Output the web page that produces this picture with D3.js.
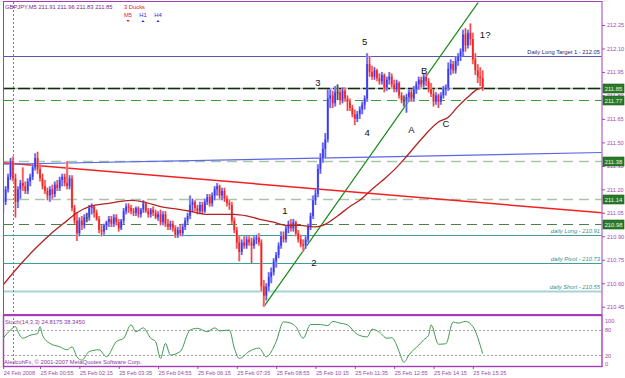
<!DOCTYPE html>
<html>
<head>
<meta charset="utf-8">
<title>GBPJPY M5</title>
<script src="https://cdn.jsdelivr.net/npm/d3@7"></script>
<style>
  body { margin: 0; background: #fff; }
  svg { display: block; font-family: "Liberation Sans", Arial, sans-serif; }
</style>
</head>
<body>
<div class="container"></div>
<script>
// GBPJPY M5 - bar 0 is 24 Feb 23:40, one bar every 5 minutes up to 25 Feb 15:55
const opens = [
  211.08,211.12,211.20,211.28,211.38,211.27,211.12,211.20,211.24,211.22,
  211.19,211.25,211.28,211.34,211.40,211.33,211.27,211.22,211.19,211.16,
  211.20,211.17,211.23,211.21,211.26,211.28,211.24,211.22,211.27,211.08,
  211.00,210.92,211.00,210.97,211.02,211.02,211.08,211.09,211.05,211.01,
  210.94,210.93,210.97,210.99,211.01,210.98,211.02,210.99,210.95,211.00,
  211.06,211.09,211.08,211.06,211.05,211.08,211.04,211.07,211.11,211.06,
  211.04,211.07,211.05,211.02,211.04,210.99,211.04,210.98,210.96,210.98,
  210.95,210.91,210.94,210.92,210.96,211.00,211.03,211.10,211.12,211.08,
  211.06,211.10,211.06,211.12,211.15,211.11,211.16,211.20,211.22,211.16,
  211.19,211.14,211.11,211.10,211.00,210.94,210.86,210.80,210.86,210.84,
  210.88,210.86,210.84,210.88,210.89,210.86,210.58,210.52,210.58,210.64,
  210.67,210.74,210.78,210.84,210.90,210.88,210.95,210.98,210.95,210.99,
  210.92,210.88,210.85,210.84,210.88,210.96,211.03,211.13,211.17,211.33,
  211.40,211.46,211.52,211.78,211.80,211.75,211.82,211.82,211.77,211.83,
  211.78,211.76,211.72,211.68,211.65,211.68,211.71,211.74,211.78,212.00,
  211.95,211.92,211.96,211.91,211.89,211.93,211.85,211.90,211.92,211.87,
  211.84,211.88,211.80,211.77,211.77,211.79,211.82,211.78,211.84,211.87,
  211.90,211.87,211.92,211.89,211.84,211.81,211.76,211.80,211.76,211.80,
  211.84,211.85,211.97,212.00,211.96,212.02,212.05,212.08,212.19,212.12,
  212.20,212.16,212.03,211.96,211.92,211.91
];
const highs = [
  211.14,211.22,211.30,211.40,211.41,211.30,211.22,211.26,211.34,211.25,
  211.27,211.30,211.36,211.43,211.44,211.36,211.30,211.26,211.21,211.22,
  211.23,211.25,211.26,211.28,211.30,211.30,211.38,211.29,211.29,211.10,
  211.05,211.02,211.03,211.04,211.05,211.10,211.11,211.10,211.07,211.03,
  210.97,210.98,211.00,211.03,211.03,211.04,211.04,211.01,211.01,211.08,
  211.11,211.11,211.10,211.08,211.09,211.09,211.08,211.13,211.12,211.08,
  211.08,211.09,211.07,211.06,211.07,211.06,211.06,211.01,211.00,211.00,
  210.97,210.96,210.97,210.98,211.02,211.05,211.16,211.14,211.13,211.10,
  211.12,211.12,211.14,211.17,211.17,211.18,211.22,211.24,211.23,211.21,
  211.21,211.16,211.13,211.12,211.02,210.96,210.90,210.88,210.90,210.90,
  210.90,210.89,210.90,210.91,210.92,210.88,210.62,210.60,210.67,210.70,
  210.76,210.80,210.86,210.93,210.93,210.97,211.00,211.01,211.01,211.00,
  210.94,210.91,210.88,210.90,210.98,211.05,211.16,211.20,211.36,211.43,
  211.50,211.56,211.84,211.84,211.83,211.86,211.87,211.84,211.85,211.85,
  211.80,211.78,211.74,211.71,211.70,211.73,211.76,211.80,212.07,212.05,
  211.99,211.98,211.97,211.94,211.95,211.94,211.92,211.95,211.94,211.90,
  211.90,211.89,211.82,211.80,211.81,211.84,211.84,211.86,211.89,211.92,
  211.92,211.94,211.94,211.91,211.88,211.84,211.82,211.81,211.82,211.86,
  211.87,212.01,212.03,212.02,212.05,212.07,212.10,212.22,212.23,212.22,
  212.26,212.20,212.07,212.00,211.98,211.96
];
const lows = [
  211.05,211.10,211.18,211.26,211.25,211.02,211.08,211.14,211.19,211.17,
  211.17,211.22,211.26,211.32,211.30,211.25,211.20,211.17,211.13,211.12,
  211.14,211.15,211.19,211.19,211.22,211.22,211.20,211.20,211.06,210.98,
  210.87,210.90,210.94,210.95,210.99,211.00,211.04,211.02,211.00,210.92,
  210.90,210.91,210.94,210.96,210.96,210.96,210.97,210.93,210.94,210.98,
  211.04,211.05,211.04,211.03,211.03,211.02,211.02,211.05,211.05,211.02,
  211.02,211.03,211.01,211.00,210.97,210.97,210.96,210.94,210.94,210.93,
  210.89,210.89,210.90,210.90,210.94,210.98,211.01,211.06,211.06,211.04,
  211.04,211.04,211.05,211.10,211.09,211.09,211.13,211.16,211.14,211.13,
  211.12,211.09,211.07,210.98,210.92,210.82,210.74,210.78,210.82,210.82,
  210.84,210.73,210.82,210.85,210.84,210.55,210.45,210.49,210.55,210.60,
  210.65,210.70,210.76,210.82,210.86,210.86,210.92,210.93,210.93,210.90,
  210.86,210.83,210.80,210.82,210.86,210.94,211.01,211.10,211.15,211.30,
  211.37,211.40,211.50,211.72,211.72,211.73,211.77,211.74,211.75,211.76,
  211.70,211.70,211.66,211.61,211.63,211.65,211.68,211.71,211.76,211.92,
  211.90,211.90,211.89,211.87,211.87,211.82,211.83,211.87,211.85,211.82,
  211.82,211.78,211.75,211.73,211.69,211.76,211.76,211.76,211.81,211.84,
  211.85,211.85,211.86,211.82,211.79,211.73,211.74,211.72,211.74,211.78,
  211.80,211.83,211.93,211.94,211.94,211.99,212.02,212.05,212.08,212.10,
  212.12,212.00,211.93,211.88,211.86,211.83
];
const closes = [
  211.12,211.20,211.28,211.38,211.27,211.12,211.20,211.24,211.22,211.19,
  211.25,211.28,211.34,211.40,211.33,211.27,211.22,211.19,211.16,211.20,
  211.17,211.23,211.21,211.26,211.28,211.24,211.22,211.27,211.08,211.00,
  210.92,211.00,210.97,211.02,211.02,211.08,211.09,211.05,211.01,210.94,
  210.93,210.97,210.99,211.01,210.98,211.02,210.99,210.95,211.00,211.06,
  211.09,211.08,211.06,211.05,211.08,211.04,211.07,211.11,211.06,211.04,
  211.07,211.05,211.02,211.04,210.99,211.04,210.98,210.96,210.98,210.95,
  210.91,210.94,210.92,210.96,211.00,211.03,211.10,211.12,211.08,211.06,
  211.10,211.06,211.12,211.15,211.11,211.16,211.20,211.22,211.16,211.19,
  211.14,211.11,211.10,211.00,210.94,210.86,210.80,210.86,210.84,210.88,
  210.86,210.84,210.88,210.89,210.86,210.58,210.52,210.58,210.64,210.67,
  210.74,210.78,210.84,210.90,210.88,210.95,210.98,210.95,210.99,210.92,
  210.88,210.85,210.84,210.88,210.96,211.03,211.13,211.17,211.33,211.40,
  211.46,211.52,211.78,211.80,211.75,211.82,211.82,211.77,211.83,211.78,
  211.76,211.72,211.68,211.65,211.68,211.71,211.74,211.78,212.00,211.95,
  211.92,211.96,211.91,211.89,211.93,211.85,211.90,211.92,211.87,211.84,
  211.88,211.80,211.77,211.77,211.79,211.82,211.78,211.84,211.87,211.90,
  211.87,211.92,211.89,211.84,211.81,211.76,211.80,211.76,211.80,211.84,
  211.85,211.97,212.00,211.96,212.02,212.05,212.08,212.19,212.12,212.20,
  212.16,212.03,211.96,211.92,211.91,211.85
];

// moving average (dark red), read at some bars
const maBars   = [0, 7, 13, 19, 26, 30, 35, 43, 52, 57, 64, 72, 76, 83, 88, 94, 99, 104, 110, 115, 121, 126, 130, 136, 141, 145, 150, 156, 160, 164, 170, 177, 181, 185, 189, 193, 195];
const maValues = [210.59, 210.72, 210.82, 210.91, 211.00, 211.05, 211.09, 211.11, 211.13, 211.12, 211.09, 211.07, 211.06, 211.04, 211.04, 211.04, 211.03, 211.01, 210.99, 210.97, 210.97, 210.96, 210.97, 211.03, 211.09, 211.13, 211.20, 211.28, 211.34, 211.41, 211.52, 211.63, 211.66, 211.73, 211.79, 211.84, 211.85];

// Stoch(14,3,3) main line
const stochBars   = [0, 3, 5, 6, 8, 11, 14, 15, 16, 19, 23, 26, 28, 30, 32, 35, 39, 42, 46, 49, 52, 54, 57, 60, 62, 64, 66, 68, 72, 76, 79, 83, 86, 88, 92, 94, 96, 100, 104, 107, 111, 114, 117, 119, 122, 125, 129, 132, 134, 137, 140, 144, 148, 150, 153, 156, 158, 160, 161, 163, 165, 169, 171, 173, 174, 177, 180, 183, 185, 188, 191, 195];
const stochValues = [60, 79, 87, 75, 60, 67, 71, 87, 67, 48, 40, 33, 40, 17, 9, 29, 33, 17, 52, 60, 91, 75, 84, 60, 52, 13, 48, 21, 29, 79, 83, 75, 84, 77, 79, 37, 13, 29, 37, 17, 52, 98, 95, 87, 60, 92, 92, 89, 99, 95, 91, 69, 63, 81, 74, 60, 61, 44, 29, 4, 21, 44, 56, 67, 91, 46, 47, 98, 95, 99, 87, 24];
const stochLevels = [80, 20];
const stochTicks = [100, 80, 20, 0];

// horizontal levels
const levelPrices = [212.05, 211.85, 211.77, 211.38, 211.14, 210.98, 210.91, 210.73, 210.55];
const levelNames  = ["Daily Long Target 1 -  212.05", "", "", "", "", "", "daily Long -  210.91", "daily Pivot -  210.73", "daily Short -  210.55"];
const boxedLevels = [211.85, 211.77, 211.38, 211.14, 210.98];

// trend lines: [bar, price] start and second point
const trendFrom = [[106, 210.45], [0, 211.37], [0, 211.36]];
const trendTo   = [[191, 212.346], [243.5, 211.05], [243.5, 211.435]];

// wave labels
const waveText   = ["1", "2", "3", "4", "5", "A", "B", "C", "1?"];
const waveBars   = [114.6, 126.4, 128, 148, 147, 166, 171.2, 180.1, 196];
const wavePrices = [211.04, 210.71, 211.86, 211.54, 212.12, 211.56, 211.94, 211.60, 212.17];

const priceTicks = [212.25, 212.10, 211.95, 211.80, 211.65, 211.50, 211.35, 211.20, 211.05, 210.90, 210.75, 210.60, 210.45];
const timeLabels = ["24 Feb 2008", "25 Feb 00:55", "25 Feb 02:15", "25 Feb 03:35", "25 Feb 04:55", "25 Feb 06:15", "25 Feb 07:35", "25 Feb 08:55", "25 Feb 10:15", "25 Feb 11:35", "25 Feb 12:55", "25 Feb 14:15", "25 Feb 15:35"];
const timeBars   = [0, 15, 31, 47, 63, 79, 95, 111, 127, 143, 159, 175, 191];
const daySeparators = [4];

const w = 625, h = 378;
const frame = "#a43cbc";
const axisText = "#a04aa8";

const x = d3.scaleLinear().domain([0, 195]).range([3.16, 482.7]);
const y = d3.scaleLinear().domain([210.45, 212.25]).range([306.7, 25]);
const ys = d3.scaleLinear().domain([0, 100]).range([364, 321]);
const lastBar = x.invert(602);

const svg = d3.select(".container").append("svg").attr("width", w).attr("height", h);
svg.append("rect").attr("width", w).attr("height", h).attr("fill", "#fff");

const defs = svg.append("defs");
defs.append("clipPath").attr("id", "mainClip").append("rect")
  .attr("x", 3.5).attr("y", 2.5).attr("width", 598).attr("height", 311);
defs.append("clipPath").attr("id", "subClip").append("rect")
  .attr("x", 3.5).attr("y", 316.5).attr("width", 598).attr("height", 49);

const main = svg.append("g").attr("clip-path", "url(#mainClip)");

// level lines
const levelStyle = [
  {c: "#5656b4", w: 1, d: null},
  {c: "#0e2e0e", w: 1.6, d: "12,3"},
  {c: "#3e9a3e", w: 1, d: "10,6"},
  {c: "#a9c6a9", w: 1.6, d: "10,6"},
  {c: "#a9c6a9", w: 1.6, d: "10,6"},
  {c: "#4f7f4f", w: 1, d: "10,6"},
  {c: "#3c9e9e", w: 1, d: null},
  {c: "#3c9e9e", w: 1, d: null},
  {c: "#a8d4d4", w: 2, d: null}
];
// grey underlay of the bid-like black dashed level
main.append("line")
  .attr("x1", 3).attr("x2", 602)
  .attr("y1", Math.round(y(levelPrices[1])) + 0.5).attr("y2", Math.round(y(levelPrices[1])) + 0.5)
  .attr("stroke", "#b8b8b8").attr("stroke-width", 1.6);
main.selectAll(".level").data(levelPrices).enter().append("line")
  .attr("x1", 3).attr("x2", 602)
  .attr("y1", d => Math.round(y(d)) + 0.5).attr("y2", d => Math.round(y(d)) + 0.5)
  .attr("stroke", (d, i) => levelStyle[i].c)
  .attr("stroke-width", (d, i) => levelStyle[i].w)
  .attr("stroke-dasharray", (d, i) => levelStyle[i].d);

main.selectAll(".levelName").data(levelPrices).enter().append("text")
  .attr("x", 600).attr("y", d => Math.round(y(d)) - 2)
  .attr("text-anchor", "end")
  .attr("font-size", 5.8)
  .attr("font-style", (d, i) => i > 5 ? "italic" : "normal")
  .attr("fill", (d, i) => i === 0 ? "#26267a" : "#3a8e8e")
  .text((d, i) => levelNames[i]);

// day separator
svg.selectAll(".sep").data(daySeparators).enter().append("line")
  .attr("x1", d => Math.round(x(d)) + 0.5).attr("x2", d => Math.round(x(d)) + 0.5)
  .attr("y1", 2).attr("y2", 366)
  .attr("stroke", "#c050c8").attr("stroke-width", 1).attr("stroke-dasharray", "2,2");

// trend lines, drawn as rays to the right edge
const trendColor = ["#138a13", "#f42020", "#5a66e6"];
const trendWidth = [1.2, 1.5, 1.1];
trendFrom.forEach((s, i) => {
  const e = trendTo[i];
  const slope = (e[1] - s[1]) / (e[0] - s[0]);
  const endPrice = s[1] + slope * (lastBar - s[0]);
  main.append("line")
    .attr("x1", x(s[0])).attr("y1", y(s[1]))
    .attr("x2", x(lastBar)).attr("y2", y(endPrice))
    .attr("stroke", trendColor[i]).attr("stroke-width", trendWidth[i]);
});

// candles
const bars = d3.range(closes.length);
const upC = "#3a3af2", dnC = "#ee2424", flatC = "#333";
const colorOf = i => closes[i] > opens[i] ? upC : (closes[i] < opens[i] ? dnC : flatC);
const haloOf = i => closes[i] > opens[i] ? "#a9a9fb" : (closes[i] < opens[i] ? "#f7a4a4" : "#999");

main.selectAll(".wick").data(bars).enter().append("line")
  .attr("x1", i => x(i)).attr("x2", i => x(i))
  .attr("y1", i => y(highs[i])).attr("y2", i => y(lows[i]))
  .attr("stroke", haloOf).attr("stroke-width", 2.4);

main.selectAll(".body").data(bars).enter().append("rect")
  .attr("x", i => x(i) - 0.8)
  .attr("width", 1.6)
  .attr("y", i => y(Math.max(opens[i], closes[i])))
  .attr("height", i => Math.max(1, Math.abs(y(opens[i]) - y(closes[i]))))
  .attr("fill", colorOf);

main.selectAll(".core").data(bars).enter().append("line")
  .attr("x1", i => x(i)).attr("x2", i => x(i))
  .attr("y1", i => y(highs[i])).attr("y2", i => y(lows[i]))
  .attr("stroke", colorOf).attr("stroke-width", 0.8);

// moving average
main.append("path")
  .datum(maBars)
  .attr("fill", "none").attr("stroke", "#b42222").attr("stroke-width", 1.3)
  .attr("d", d3.line().x(d => x(d)).y((d, i) => y(maValues[i])).curve(d3.curveMonotoneX));

// wave labels
main.selectAll(".wave").data(waveText).enter().append("text")
  .attr("x", (d, i) => x(waveBars[i])).attr("y", (d, i) => y(wavePrices[i]))
  .attr("text-anchor", "middle")
  .attr("font-size", 9.5).attr("fill", "#111")
  .text(d => d);

// frame
svg.append("rect").attr("x", 3.5).attr("y", 1.5).attr("width", 598.5).attr("height", 313)
  .attr("fill", "none").attr("stroke", frame).attr("stroke-width", 1);
svg.append("rect").attr("x", 3.5).attr("y", 315.5).attr("width", 598.5).attr("height", 51)
  .attr("fill", "none").attr("stroke", frame).attr("stroke-width", 1.4);

// price axis
const yAxis = d3.axisRight(y).tickValues(priceTicks).tickSize(3).tickPadding(2)
  .tickFormat(d3.format(".2f"));
const gy = svg.append("g").attr("transform", "translate(602,0)").call(yAxis);
gy.select(".domain").remove();
gy.selectAll("line").attr("stroke", axisText);
gy.selectAll("text").attr("fill", axisText).attr("font-size", 5.6)
  .attr("font-family", "Liberation Sans, Arial, sans-serif");

// boxed level labels on the axis
const boxes = svg.selectAll(".box").data(boxedLevels).enter().append("g")
  .attr("transform", d => "translate(603," + (Math.round(y(d)) - 4) + ")");
boxes.append("rect").attr("width", 21).attr("height", 9)
  .attr("fill", "#2b7a2b").attr("stroke", "#1a5a1a").attr("stroke-width", 0.6);
boxes.append("text").attr("x", 10.5).attr("y", 6.8).attr("text-anchor", "middle")
  .attr("font-size", 5.8).attr("fill", "#e8f4e8").text(d => d.toFixed(2));

// stochastic window
const sub = svg.append("g").attr("clip-path", "url(#subClip)");
sub.selectAll(".slevel").data(stochLevels).enter().append("line")
  .attr("x1", 3).attr("x2", 602)
  .attr("y1", d => Math.round(ys(d)) + 0.5).attr("y2", d => Math.round(ys(d)) + 0.5)
  .attr("stroke", "#8c8c8c").attr("stroke-dasharray", "2,2").attr("stroke-width", 0.8);
sub.append("path")
  .datum(stochBars)
  .attr("fill", "none").attr("stroke", "#3f9a4f").attr("stroke-width", 1)
  .attr("d", d3.line().x(d => x(d)).y((d, i) => ys(stochValues[i])).curve(d3.curveMonotoneX));

const sAxis = d3.axisRight(ys).tickValues(stochTicks).tickSize(0).tickPadding(3);
const gs = svg.append("g").attr("transform", "translate(602,0)").call(sAxis);
gs.select(".domain").remove();
gs.selectAll("text").attr("fill", axisText).attr("font-size", 5.6)
  .attr("font-family", "Liberation Sans, Arial, sans-serif");

svg.append("text").attr("x", 5).attr("y", 324).attr("font-size", 5.8).attr("fill", "#8a3a9a")
  .text("Stoch(14,3,3) 24.8175 38.3450");
svg.append("text").attr("x", 4).attr("y", 364).attr("font-size", 5.8).attr("fill", "#8a3a9a")
  .text("AledcohFx, © 2001-2007 MetaQuotes Software Corp.");

// time axis
const xAxis = d3.axisBottom(x).tickValues(timeBars).tickSize(2).tickPadding(2)
  .tickFormat((d, i) => timeLabels[i]);
const gx = svg.append("g").attr("transform", "translate(0,367)").call(xAxis);
gx.select(".domain").remove();
gx.selectAll("line").attr("stroke", axisText);
gx.selectAll("text").attr("text-anchor", "start").attr("fill", axisText).attr("font-size", 5.6)
  .attr("font-family", "Liberation Sans, Arial, sans-serif");

// header
svg.append("text").attr("x", 5).attr("y", 9).attr("font-size", 5.8).attr("fill", "#7a2a8a")
  .text("GBPJPY,M5  211.91 211.96 211.83 211.85");
svg.append("text").attr("x", 124).attr("y", 9).attr("font-size", 5.8).attr("fill", "#e02020")
  .text("3 Ducks");
const ducks = ["M5", "H1", "H4"];
const duckUp = [false, true, true];
const duckX = d3.scalePoint().domain(ducks).range([128, 158]);
ducks.forEach((d, i) => {
  const c = duckUp[i] ? "#2a2ae0" : "#e02020";
  svg.append("text").attr("x", duckX(d)).attr("y", 16.5).attr("text-anchor", "middle")
    .attr("font-size", 5.8).attr("fill", c).text(d);
  const cx = duckX(d), cy = 21;
  svg.append("path")
    .attr("d", duckUp[i]
      ? `M${cx - 1.6},${cy + 1}L${cx + 1.6},${cy + 1}L${cx},${cy - 1}Z`
      : `M${cx - 1.6},${cy - 1}L${cx + 1.6},${cy - 1}L${cx},${cy + 1}Z`)
    .attr("fill", c);
});
</script>
</body>
</html>
